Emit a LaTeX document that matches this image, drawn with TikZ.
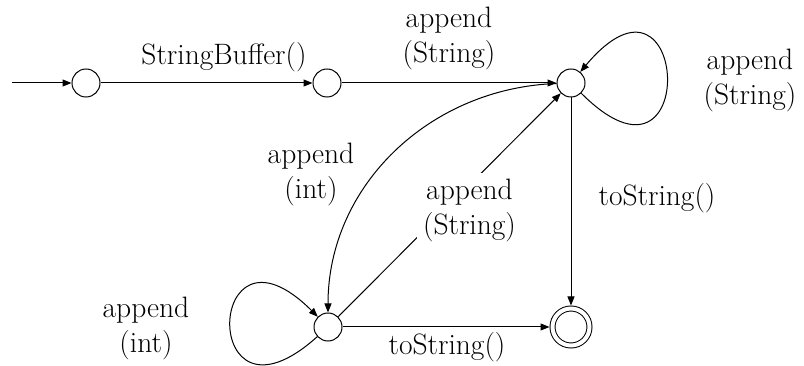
\documentclass[tikz,border=0pt]{standalone}
\usepackage{fontspec}
\usetikzlibrary{arrows.meta}
\begin{document}
\begin{tikzpicture}[x=1pt,y=1pt,
  state/.style={circle,draw,line width=1pt,minimum size=28pt,inner sep=0pt},
  accept/.style={circle,draw,double,double distance=4pt,line width=1pt,
                 minimum size=37pt,inner sep=0pt,outer sep=3pt},
  lbl/.style={align=center,inner sep=0pt,font=\fontsize{29.5}{35}\selectfont},
  arc/.style={line width=1pt,-{Triangle[length=9pt,width=7pt]}},
]
\useasboundingbox (0,0) rectangle (804,-366);

% states
\coordinate (init) at (12,-83);
\node[state]  (s1) at (86,-83)  {};
\node[state]  (s2) at (327,-83) {};
\node[state]  (s3) at (571,-83) {};
\node[state]  (s4) at (328,-327) {};
\node[accept] (sf) at (571,-327) {};

% transitions
\draw[arc] (init) -- (s1);
\draw[arc] (s1) -- (s2);
\draw[arc] (s2) -- (s3);
\draw[arc] (s3.-45) .. controls +(-45:170) and +(50:170) .. (s3.50);
\draw[arc] (s3) -- (sf);
\draw[arc] (s4) -- (sf);
\draw[arc] (s3) to[out=182,in=90] (s4);
\draw[arc] (s4.222) .. controls +(222:160) and +(135:160) .. (s4.135);
\draw[arc] (s4) -- node[lbl,fill=white,inner sep=6pt,xshift=20pt,yshift=-5pt] (lmid)
  {append\\(String)} (s3);

% labels
\node[lbl,anchor=base] (lsb) at (224,-65) {StringBuffer()};
\node[lbl] (ltop) at (449,-38) {append\\(String)};
\node[lbl] (lloop3) at (750,-80) {append\\(String)};
\node[lbl,anchor=base] (lts1) at (657,-206) {toString()};
\node[lbl,anchor=base] (lts2) at (447,-355) {toString()};
\node[lbl] (lint) at (311,-174) {append\\(int)};
\node[lbl] (lloop4) at (146,-328) {append\\(int)};
\end{tikzpicture}
\end{document}
